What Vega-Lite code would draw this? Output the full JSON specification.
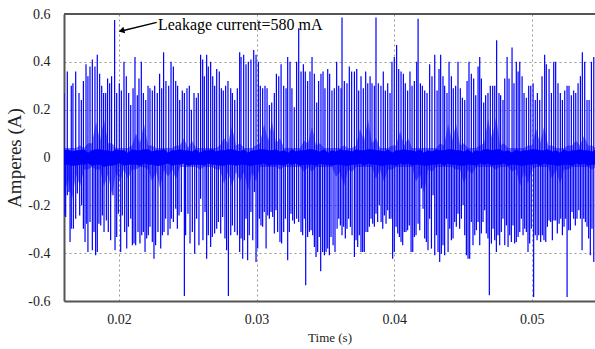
{
"$schema": "https://vega.github.io/schema/vega-lite/v6.json",
"width": 531, "height": 287,
"autosize": {"type": "none"},
"padding": {"left": 64, "top": 14, "right": 0, "bottom": 48},
"background": "white",
"config": {"view": {"stroke": null}, "font": "Liberation Serif"},
"datasets": {
"spikes": [
{"t":0.01600,"v":0.27},{"t":0.01624,"v":0.36},{"t":0.01653,"v":0.30},{"t":0.01665,"v":0.31},{"t":0.01685,"v":0.36},{"t":0.01709,"v":0.27},{"t":0.01726,"v":0.24},{"t":0.01741,"v":0.32},{"t":0.01760,"v":0.39},{"t":0.01774,"v":0.34},
{"t":0.01789,"v":0.38},{"t":0.01806,"v":0.41},{"t":0.01825,"v":0.38},{"t":0.01842,"v":0.43},{"t":0.01859,"v":0.35},{"t":0.01874,"v":0.30},{"t":0.01888,"v":0.27},{"t":0.01903,"v":0.27},{"t":0.01917,"v":0.33},{"t":0.01932,"v":0.31},
{"t":0.01946,"v":0.34},{"t":0.01968,"v":0.575},{"t":0.01983,"v":0.27},{"t":0.02002,"v":0.31},{"t":0.02017,"v":0.28},{"t":0.02036,"v":0.40},{"t":0.02053,"v":0.34},{"t":0.02070,"v":0.27},{"t":0.02085,"v":0.22},{"t":0.02102,"v":0.29},
{"t":0.02116,"v":0.42},{"t":0.02133,"v":0.26},{"t":0.02145,"v":0.33},{"t":0.02162,"v":0.40},{"t":0.02177,"v":0.27},{"t":0.02194,"v":0.24},{"t":0.02211,"v":0.30},{"t":0.02225,"v":0.29},{"t":0.02242,"v":0.28},{"t":0.02259,"v":0.30},
{"t":0.02278,"v":0.27},{"t":0.02295,"v":0.35},{"t":0.02310,"v":0.29},{"t":0.02324,"v":0.44},{"t":0.02341,"v":0.32},{"t":0.02361,"v":0.30},{"t":0.02378,"v":0.40},{"t":0.02395,"v":0.38},{"t":0.02412,"v":0.32},{"t":0.02426,"v":0.30},
{"t":0.02441,"v":0.24},{"t":0.02460,"v":0.28},{"t":0.02475,"v":0.27},{"t":0.02494,"v":0.29},{"t":0.02511,"v":0.30},{"t":0.02526,"v":0.20},{"t":0.02545,"v":0.27},{"t":0.02562,"v":0.25},{"t":0.02576,"v":0.27},{"t":0.02593,"v":0.43},
{"t":0.02608,"v":0.41},{"t":0.02620,"v":0.34},{"t":0.02637,"v":0.43},{"t":0.02649,"v":0.38},{"t":0.02666,"v":0.40},{"t":0.02681,"v":0.34},{"t":0.02695,"v":0.30},{"t":0.02710,"v":0.37},{"t":0.02729,"v":0.36},{"t":0.02744,"v":0.29},
{"t":0.02758,"v":0.28},{"t":0.02775,"v":0.30},{"t":0.02792,"v":0.32},{"t":0.02812,"v":0.29},{"t":0.02824,"v":0.27},{"t":0.02841,"v":0.24},{"t":0.02860,"v":0.29},{"t":0.02877,"v":0.44},
{"t":0.02887,"v":0.42},{"t":0.02906,"v":0.43},{"t":0.02923,"v":0.39},{"t":0.02940,"v":0.40},{"t":0.02959,"v":0.41},{"t":0.02979,"v":0.45},{"t":0.02996,"v":0.43},{"t":0.03013,"v":0.40},{"t":0.03027,"v":0.30},{"t":0.03044,"v":0.29},
{"t":0.03061,"v":0.30},{"t":0.03076,"v":0.29},{"t":0.03093,"v":0.22},{"t":0.03110,"v":0.23},{"t":0.03129,"v":0.27},{"t":0.03144,"v":0.35},{"t":0.03161,"v":0.34},{"t":0.03178,"v":0.39},{"t":0.03197,"v":0.30},{"t":0.03214,"v":0.29},
{"t":0.03226,"v":0.42},{"t":0.03243,"v":0.40},{"t":0.03257,"v":0.29},{"t":0.03274,"v":0.21},{"t":0.03291,"v":0.40},{"t":0.03306,"v":0.54},{"t":0.03323,"v":0.36},{"t":0.03340,"v":0.39},{"t":0.03354,"v":0.36},{"t":0.03371,"v":0.32},
{"t":0.03388,"v":0.36},{"t":0.03403,"v":0.42},{"t":0.03420,"v":0.35},{"t":0.03437,"v":0.23},{"t":0.03451,"v":0.32},{"t":0.03468,"v":0.35},{"t":0.03483,"v":0.36},{"t":0.03497,"v":0.29},{"t":0.03517,"v":0.37},{"t":0.03531,"v":0.35},
{"t":0.03548,"v":0.28},{"t":0.03565,"v":0.29},{"t":0.03582,"v":0.40},{"t":0.03597,"v":0.30},{"t":0.03614,"v":0.29},{"t":0.03621,"v":0.585},{"t":0.03638,"v":0.32},{"t":0.03657,"v":0.31},{"t":0.03674,"v":0.38},{"t":0.03691,"v":0.36},
{"t":0.03711,"v":0.36},{"t":0.03728,"v":0.37},{"t":0.03742,"v":0.28},{"t":0.03759,"v":0.34},{"t":0.03776,"v":0.29},{"t":0.03793,"v":0.36},{"t":0.03808,"v":0.31},{"t":0.03825,"v":0.34},{"t":0.03839,"v":0.31},{"t":0.03856,"v":0.30},
{"t":0.03868,"v":0.585},{"t":0.03885,"v":0.31},{"t":0.03904,"v":0.30},{"t":0.03921,"v":0.36},{"t":0.03936,"v":0.28},{"t":0.03953,"v":0.31},{"t":0.03970,"v":0.27},{"t":0.03984,"v":0.40},{"t":0.04001,"v":0.42},{"t":0.04018,"v":0.47},
{"t":0.04033,"v":0.37},{"t":0.04050,"v":0.36},{"t":0.04067,"v":0.35},{"t":0.04081,"v":0.31},{"t":0.04098,"v":0.28},{"t":0.04115,"v":0.36},{"t":0.04130,"v":0.30},{"t":0.04147,"v":0.32},{"t":0.04164,"v":0.40},
{"t":0.04174,"v":0.58},{"t":0.04191,"v":0.31},{"t":0.04205,"v":0.30},{"t":0.04222,"v":0.28},{"t":0.04239,"v":0.27},{"t":0.04258,"v":0.39},{"t":0.04275,"v":0.34},{"t":0.04295,"v":0.43},{"t":0.04312,"v":0.28},{"t":0.04326,"v":0.37},
{"t":0.04338,"v":0.43},{"t":0.04355,"v":0.34},{"t":0.04367,"v":0.30},{"t":0.04384,"v":0.27},{"t":0.04399,"v":0.40},{"t":0.04416,"v":0.34},{"t":0.04430,"v":0.29},{"t":0.04447,"v":0.30},{"t":0.04464,"v":0.40},{"t":0.04481,"v":0.29},
{"t":0.04496,"v":0.25},{"t":0.04513,"v":0.24},{"t":0.04530,"v":0.32},{"t":0.04544,"v":0.40},{"t":0.04561,"v":0.35},{"t":0.04578,"v":0.33},{"t":0.04593,"v":0.26},{"t":0.04610,"v":0.38},{"t":0.04622,"v":0.42},{"t":0.04634,"v":0.33},
{"t":0.04651,"v":0.23},{"t":0.04665,"v":0.26},{"t":0.04682,"v":0.27},{"t":0.04699,"v":0.30},{"t":0.04716,"v":0.30},{"t":0.04731,"v":0.30},{"t":0.04745,"v":0.49},{"t":0.04762,"v":0.27},{"t":0.04774,"v":0.26},{"t":0.04791,"v":0.24},
{"t":0.04804,"v":0.33},{"t":0.04821,"v":0.42},{"t":0.04835,"v":0.33},{"t":0.04857,"v":0.46},{"t":0.04871,"v":0.31},{"t":0.04888,"v":0.40},{"t":0.04901,"v":0.36},{"t":0.04913,"v":0.40},{"t":0.04930,"v":0.34},{"t":0.04944,"v":0.27},
{"t":0.04961,"v":0.25},{"t":0.04978,"v":0.30},{"t":0.04993,"v":0.30},{"t":0.05010,"v":0.31},{"t":0.05026,"v":0.24},{"t":0.05041,"v":0.27},{"t":0.05058,"v":0.24},{"t":0.05075,"v":0.34},{"t":0.05094,"v":0.43},{"t":0.05106,"v":0.39},
{"t":0.05126,"v":0.37},{"t":0.05143,"v":0.27},{"t":0.05160,"v":0.40},{"t":0.05174,"v":0.40},{"t":0.05191,"v":0.31},{"t":0.05208,"v":0.27},{"t":0.05223,"v":0.24},{"t":0.05240,"v":0.28},{"t":0.05257,"v":0.30},{"t":0.05271,"v":0.30},
{"t":0.05288,"v":0.26},{"t":0.05305,"v":0.28},{"t":0.05320,"v":0.27},{"t":0.05337,"v":0.31},{"t":0.05354,"v":0.34},{"t":0.05368,"v":0.44},{"t":0.05385,"v":0.40},{"t":0.05402,"v":0.24},{"t":0.05417,"v":0.24},{"t":0.05434,"v":0.40},
{"t":0.05451,"v":0.42},
{"t":0.01600,"v":-0.242},{"t":0.01612,"v":-0.249},{"t":0.01624,"v":-0.158},{"t":0.01636,"v":-0.144},{"t":0.01644,"v":-0.353},{"t":0.01653,"v":-0.298},{"t":0.01668,"v":-0.298},{"t":0.01685,"v":-0.256},{"t":0.01697,"v":-0.151},{"t":0.01714,"v":-0.242},
{"t":0.01728,"v":-0.200},{"t":0.01741,"v":-0.298},{"t":0.01753,"v":-0.353},{"t":0.01765,"v":-0.277},{"t":0.01774,"v":-0.395},{"t":0.01789,"v":-0.270},{"t":0.01806,"v":-0.388},{"t":0.01818,"v":-0.311},{"t":0.01830,"v":-0.409},{"t":0.01842,"v":-0.395},
{"t":0.01854,"v":-0.277},{"t":0.01867,"v":-0.284},{"t":0.01879,"v":-0.242},{"t":0.01891,"v":-0.311},{"t":0.01908,"v":-0.263},{"t":0.01922,"v":-0.311},{"t":0.01939,"v":-0.346},{"t":0.01956,"v":-0.158},{"t":0.01971,"v":-0.388},{"t":0.01983,"v":-0.332},
{"t":0.01995,"v":-0.235},{"t":0.02012,"v":-0.395},{"t":0.02024,"v":-0.242},{"t":0.02041,"v":-0.311},{"t":0.02056,"v":-0.381},{"t":0.02068,"v":-0.290},{"t":0.02085,"v":-0.256},{"t":0.02097,"v":-0.367},{"t":0.02109,"v":-0.360},{"t":0.02121,"v":-0.367},
{"t":0.02138,"v":-0.311},{"t":0.02152,"v":-0.360},{"t":0.02165,"v":-0.325},{"t":0.02177,"v":-0.311},{"t":0.02189,"v":-0.395},{"t":0.02201,"v":-0.339},{"t":0.02213,"v":-0.325},{"t":0.02225,"v":-0.290},{"t":0.02242,"v":-0.353},{"t":0.02254,"v":-0.423},
{"t":0.02266,"v":-0.367},{"t":0.02283,"v":-0.311},{"t":0.02303,"v":-0.381},{"t":0.02315,"v":-0.325},{"t":0.02327,"v":-0.311},{"t":0.02339,"v":-0.256},{"t":0.02356,"v":-0.325},{"t":0.02371,"v":-0.298},{"t":0.02380,"v":-0.256},{"t":0.02395,"v":-0.270},
{"t":0.02412,"v":-0.214},{"t":0.02424,"v":-0.298},{"t":0.02436,"v":-0.242},{"t":0.02453,"v":-0.228},{"t":0.02475,"v":-0.579},{"t":0.02484,"v":-0.325},{"t":0.02501,"v":-0.235},{"t":0.02516,"v":-0.360},{"t":0.02533,"v":-0.311},{"t":0.02550,"v":-0.402},
{"t":0.02564,"v":-0.256},{"t":0.02581,"v":-0.367},{"t":0.02593,"v":-0.172},{"t":0.02610,"v":-0.346},{"t":0.02625,"v":-0.228},{"t":0.02637,"v":-0.423},{"t":0.02649,"v":-0.325},{"t":0.02666,"v":-0.374},{"t":0.02678,"v":-0.332},{"t":0.02695,"v":-0.318},
{"t":0.02710,"v":-0.298},{"t":0.02722,"v":-0.270},{"t":0.02739,"v":-0.318},{"t":0.02753,"v":-0.249},{"t":0.02770,"v":-0.339},{"t":0.02782,"v":-0.388},{"t":0.02795,"v":-0.579},{"t":0.02812,"v":-0.325},{"t":0.02824,"v":-0.284},{"t":0.02841,"v":-0.311},
{"t":0.02860,"v":-0.325},{"t":0.02877,"v":-0.395},
{"t":0.02887,"v":-0.339},{"t":0.02899,"v":-0.423},{"t":0.02911,"v":-0.346},{"t":0.02923,"v":-0.256},{"t":0.02935,"v":-0.430},{"t":0.02947,"v":-0.325},{"t":0.02959,"v":-0.228},{"t":0.02972,"v":-0.346},{"t":0.02984,"v":-0.144},{"t":0.02996,"v":-0.437},
{"t":0.03008,"v":-0.381},{"t":0.03020,"v":-0.256},{"t":0.03032,"v":-0.284},{"t":0.03044,"v":-0.290},{"t":0.03056,"v":-0.228},{"t":0.03069,"v":-0.381},{"t":0.03081,"v":-0.242},{"t":0.03093,"v":-0.256},{"t":0.03105,"v":-0.228},{"t":0.03117,"v":-0.249},
{"t":0.03129,"v":-0.318},{"t":0.03141,"v":-0.221},{"t":0.03153,"v":-0.311},{"t":0.03170,"v":-0.353},{"t":0.03182,"v":-0.360},{"t":0.03197,"v":-0.311},{"t":0.03209,"v":-0.256},{"t":0.03226,"v":-0.430},{"t":0.03238,"v":-0.311},{"t":0.03250,"v":-0.235},
{"t":0.03262,"v":-0.263},{"t":0.03275,"v":-0.277},{"t":0.03291,"v":-0.256},{"t":0.03306,"v":-0.270},{"t":0.03323,"v":-0.311},{"t":0.03335,"v":-0.325},{"t":0.03347,"v":-0.256},{"t":0.03357,"v":-0.534},{"t":0.03371,"v":-0.332},{"t":0.03384,"v":-0.311},
{"t":0.03396,"v":-0.304},{"t":0.03408,"v":-0.325},{"t":0.03420,"v":-0.374},{"t":0.03432,"v":-0.416},{"t":0.03444,"v":-0.395},{"t":0.03456,"v":-0.332},{"t":0.03466,"v":-0.476},{"t":0.03480,"v":-0.395},{"t":0.03493,"v":-0.409},{"t":0.03505,"v":-0.395},
{"t":0.03517,"v":-0.381},{"t":0.03529,"v":-0.409},{"t":0.03541,"v":-0.332},{"t":0.03556,"v":-0.367},{"t":0.03570,"v":-0.395},{"t":0.03585,"v":-0.298},{"t":0.03597,"v":-0.256},{"t":0.03609,"v":-0.284},{"t":0.03621,"v":-0.325},{"t":0.03633,"v":-0.290},
{"t":0.03645,"v":-0.339},{"t":0.03657,"v":-0.298},{"t":0.03669,"v":-0.256},{"t":0.03682,"v":-0.290},{"t":0.03694,"v":-0.325},{"t":0.03711,"v":-0.416},{"t":0.03723,"v":-0.346},{"t":0.03735,"v":-0.374},{"t":0.03747,"v":-0.325},{"t":0.03759,"v":-0.395},
{"t":0.03771,"v":-0.395},{"t":0.03783,"v":-0.395},{"t":0.03795,"v":-0.311},{"t":0.03808,"v":-0.311},{"t":0.03820,"v":-0.290},{"t":0.03832,"v":-0.256},{"t":0.03844,"v":-0.277},{"t":0.03856,"v":-0.290},{"t":0.03868,"v":-0.235},{"t":0.03880,"v":-0.270},
{"t":0.03892,"v":-0.200},{"t":0.03905,"v":-0.270},{"t":0.03917,"v":-0.298},{"t":0.03929,"v":-0.242},{"t":0.03941,"v":-0.277},{"t":0.03953,"v":-0.221},{"t":0.03965,"v":-0.256},{"t":0.03977,"v":-0.256},{"t":0.03989,"v":-0.423},{"t":0.04001,"v":-0.395},
{"t":0.04014,"v":-0.290},{"t":0.04026,"v":-0.318},{"t":0.04038,"v":-0.332},{"t":0.04050,"v":-0.353},{"t":0.04062,"v":-0.367},{"t":0.04074,"v":-0.311},{"t":0.04086,"v":-0.311},{"t":0.04098,"v":-0.304},{"t":0.04110,"v":-0.284},{"t":0.04123,"v":-0.395},
{"t":0.04135,"v":-0.395},{"t":0.04147,"v":-0.332},{"t":0.04159,"v":-0.325},
{"t":0.04174,"v":-0.277},{"t":0.04186,"v":-0.304},{"t":0.04198,"v":-0.130},{"t":0.04210,"v":-0.214},{"t":0.04222,"v":-0.339},{"t":0.04234,"v":-0.353},{"t":0.04246,"v":-0.388},{"t":0.04258,"v":-0.256},{"t":0.04271,"v":-0.381},{"t":0.04283,"v":-0.158},
{"t":0.04295,"v":-0.409},{"t":0.04307,"v":-0.325},{"t":0.04319,"v":-0.395},{"t":0.04331,"v":-0.437},{"t":0.04343,"v":-0.402},{"t":0.04355,"v":-0.367},{"t":0.04367,"v":-0.409},{"t":0.04380,"v":-0.256},{"t":0.04392,"v":-0.395},{"t":0.04404,"v":-0.298},
{"t":0.04416,"v":-0.346},{"t":0.04428,"v":-0.339},{"t":0.04440,"v":-0.270},{"t":0.04452,"v":-0.290},{"t":0.04464,"v":-0.235},{"t":0.04476,"v":-0.298},{"t":0.04489,"v":-0.256},{"t":0.04501,"v":-0.200},{"t":0.04513,"v":-0.325},{"t":0.04525,"v":-0.409},
{"t":0.04537,"v":-0.423},{"t":0.04549,"v":-0.423},{"t":0.04561,"v":-0.270},{"t":0.04573,"v":-0.367},{"t":0.04586,"v":-0.325},{"t":0.04598,"v":-0.304},{"t":0.04610,"v":-0.270},{"t":0.04622,"v":-0.367},{"t":0.04634,"v":-0.318},{"t":0.04646,"v":-0.270},
{"t":0.04658,"v":-0.221},{"t":0.04670,"v":-0.318},{"t":0.04682,"v":-0.339},{"t":0.04692,"v":-0.576},{"t":0.04707,"v":-0.360},{"t":0.04719,"v":-0.298},{"t":0.04731,"v":-0.346},{"t":0.04743,"v":-0.395},{"t":0.04755,"v":-0.325},{"t":0.04767,"v":-0.367},
{"t":0.04779,"v":-0.311},{"t":0.04791,"v":-0.256},{"t":0.04804,"v":-0.367},{"t":0.04816,"v":-0.284},{"t":0.04828,"v":-0.374},{"t":0.04840,"v":-0.325},{"t":0.04852,"v":-0.353},{"t":0.04864,"v":-0.284},{"t":0.04876,"v":-0.360},{"t":0.04888,"v":-0.353},
{"t":0.04901,"v":-0.332},{"t":0.04913,"v":-0.311},{"t":0.04925,"v":-0.256},{"t":0.04937,"v":-0.325},{"t":0.04949,"v":-0.298},{"t":0.04961,"v":-0.311},{"t":0.04973,"v":-0.395},{"t":0.04985,"v":-0.360},{"t":0.04997,"v":-0.298},{"t":0.05014,"v":-0.583},
{"t":0.05026,"v":-0.325},{"t":0.05039,"v":-0.346},{"t":0.05051,"v":-0.325},{"t":0.05065,"v":-0.353},{"t":0.05077,"v":-0.325},{"t":0.05089,"v":-0.346},{"t":0.05102,"v":-0.353},{"t":0.05114,"v":-0.290},{"t":0.05126,"v":-0.263},{"t":0.05138,"v":-0.270},
{"t":0.05150,"v":-0.346},{"t":0.05162,"v":-0.263},{"t":0.05174,"v":-0.263},{"t":0.05186,"v":-0.318},{"t":0.05199,"v":-0.277},{"t":0.05211,"v":-0.256},{"t":0.05223,"v":-0.325},{"t":0.05235,"v":-0.290},{"t":0.05247,"v":-0.256},{"t":0.05257,"v":-0.583},
{"t":0.05269,"v":-0.304},{"t":0.05281,"v":-0.304},{"t":0.05293,"v":-0.228},{"t":0.05305,"v":-0.256},{"t":0.05317,"v":-0.284},{"t":0.05329,"v":-0.256},{"t":0.05342,"v":-0.221},{"t":0.05354,"v":-0.256},{"t":0.05366,"v":-0.388},{"t":0.05378,"v":-0.256},
{"t":0.05390,"v":-0.270},{"t":0.05402,"v":-0.290},{"t":0.05414,"v":-0.339},{"t":0.05426,"v":-0.409},{"t":0.05438,"v":-0.298},{"t":0.05451,"v":-0.437}
],
"core": [
{"t":0.01600,"up":0.04,"dn":-0.16,"cu":0.03,"cd":-0.03},
{"t":0.01658,"up":0.04,"dn":-0.18,"cu":0.025,"cd":-0.035},
{"t":0.01716,"up":0.05,"dn":-0.12,"cu":0.03,"cd":-0.03},
{"t":0.01774,"up":0.06,"dn":-0.05,"cu":0.02,"cd":-0.025},
{"t":0.01833,"up":0.15,"dn":-0.05,"cu":0.035,"cd":-0.03},
{"t":0.01891,"up":0.16,"dn":-0.12,"cu":0.03,"cd":-0.04},
{"t":0.01949,"up":0.06,"dn":-0.16,"cu":0.025,"cd":-0.035},
{"t":0.02007,"up":0.04,"dn":-0.10,"cu":0.03,"cd":-0.025},
{"t":0.02065,"up":0.04,"dn":-0.09,"cu":0.02,"cd":-0.03},
{"t":0.02123,"up":0.10,"dn":-0.05,"cu":0.03,"cd":-0.03},
{"t":0.02182,"up":0.14,"dn":-0.04,"cu":0.035,"cd":-0.025},
{"t":0.02240,"up":0.05,"dn":-0.10,"cu":0.025,"cd":-0.03},
{"t":0.02298,"up":0.04,"dn":-0.13,"cu":0.03,"cd":-0.035},
{"t":0.02356,"up":0.04,"dn":-0.08,"cu":0.02,"cd":-0.025},
{"t":0.02414,"up":0.05,"dn":-0.09,"cu":0.03,"cd":-0.03},
{"t":0.02472,"up":0.08,"dn":-0.04,"cu":0.03,"cd":-0.025},
{"t":0.02531,"up":0.07,"dn":-0.04,"cu":0.025,"cd":-0.03},
{"t":0.02589,"up":0.04,"dn":-0.05,"cu":0.02,"cd":-0.03},
{"t":0.02647,"up":0.04,"dn":-0.04,"cu":0.03,"cd":-0.025},
{"t":0.02705,"up":0.04,"dn":-0.05,"cu":0.025,"cd":-0.03},
{"t":0.02763,"up":0.08,"dn":-0.11,"cu":0.03,"cd":-0.035},
{"t":0.02821,"up":0.13,"dn":-0.12,"cu":0.035,"cd":-0.03},
{"t":0.02880,"up":0.06,"dn":-0.10,"cu":0.025,"cd":-0.03},
{"t":0.02938,"up":0.04,"dn":-0.14,"cu":0.02,"cd":-0.035},
{"t":0.02996,"up":0.05,"dn":-0.10,"cu":0.03,"cd":-0.03},
{"t":0.03054,"up":0.14,"dn":-0.04,"cu":0.035,"cd":-0.025},
{"t":0.03112,"up":0.15,"dn":-0.04,"cu":0.03,"cd":-0.03},
{"t":0.03170,"up":0.08,"dn":-0.05,"cu":0.025,"cd":-0.03},
{"t":0.03229,"up":0.04,"dn":-0.04,"cu":0.02,"cd":-0.025},
{"t":0.03287,"up":0.04,"dn":-0.04,"cu":0.025,"cd":-0.025},
{"t":0.03345,"up":0.07,"dn":-0.06,"cu":0.03,"cd":-0.03},
{"t":0.03403,"up":0.13,"dn":-0.06,"cu":0.035,"cd":-0.03},
{"t":0.03461,"up":0.06,"dn":-0.04,"cu":0.025,"cd":-0.025},
{"t":0.03519,"up":0.04,"dn":-0.04,"cu":0.02,"cd":-0.03},
{"t":0.03577,"up":0.04,"dn":-0.08,"cu":0.025,"cd":-0.03},
{"t":0.03636,"up":0.05,"dn":-0.12,"cu":0.03,"cd":-0.035},
{"t":0.03694,"up":0.04,"dn":-0.06,"cu":0.025,"cd":-0.03},
{"t":0.03752,"up":0.12,"dn":-0.04,"cu":0.03,"cd":-0.025},
{"t":0.03810,"up":0.16,"dn":-0.04,"cu":0.035,"cd":-0.025},
{"t":0.03868,"up":0.08,"dn":-0.09,"cu":0.03,"cd":-0.03},
{"t":0.03926,"up":0.04,"dn":-0.10,"cu":0.025,"cd":-0.035},
{"t":0.03985,"up":0.05,"dn":-0.05,"cu":0.02,"cd":-0.03},
{"t":0.04043,"up":0.11,"dn":-0.04,"cu":0.03,"cd":-0.025},
{"t":0.04101,"up":0.08,"dn":-0.04,"cu":0.03,"cd":-0.025},
{"t":0.04159,"up":0.04,"dn":-0.10,"cu":0.025,"cd":-0.03},
{"t":0.04217,"up":0.04,"dn":-0.15,"cu":0.02,"cd":-0.035},
{"t":0.04275,"up":0.04,"dn":-0.06,"cu":0.025,"cd":-0.03},
{"t":0.04334,"up":0.06,"dn":-0.04,"cu":0.03,"cd":-0.025},
{"t":0.04392,"up":0.14,"dn":-0.04,"cu":0.035,"cd":-0.025},
{"t":0.04450,"up":0.14,"dn":-0.05,"cu":0.03,"cd":-0.03},
{"t":0.04508,"up":0.06,"dn":-0.11,"cu":0.025,"cd":-0.035},
{"t":0.04566,"up":0.04,"dn":-0.07,"cu":0.02,"cd":-0.03},
{"t":0.04624,"up":0.05,"dn":-0.04,"cu":0.025,"cd":-0.025},
{"t":0.04683,"up":0.16,"dn":-0.04,"cu":0.035,"cd":-0.025},
{"t":0.04741,"up":0.17,"dn":-0.05,"cu":0.035,"cd":-0.03},
{"t":0.04799,"up":0.06,"dn":-0.04,"cu":0.025,"cd":-0.025},
{"t":0.04857,"up":0.04,"dn":-0.06,"cu":0.02,"cd":-0.03},
{"t":0.04915,"up":0.04,"dn":-0.12,"cu":0.025,"cd":-0.035},
{"t":0.04973,"up":0.05,"dn":-0.11,"cu":0.03,"cd":-0.03},
{"t":0.05031,"up":0.12,"dn":-0.04,"cu":0.035,"cd":-0.025},
{"t":0.05090,"up":0.13,"dn":-0.04,"cu":0.03,"cd":-0.025},
{"t":0.05148,"up":0.05,"dn":-0.09,"cu":0.025,"cd":-0.03},
{"t":0.05206,"up":0.04,"dn":-0.11,"cu":0.02,"cd":-0.035},
{"t":0.05264,"up":0.05,"dn":-0.05,"cu":0.025,"cd":-0.03},
{"t":0.05322,"up":0.07,"dn":-0.04,"cu":0.03,"cd":-0.025},
{"t":0.05380,"up":0.09,"dn":-0.04,"cu":0.03,"cd":-0.025},
{"t":0.05439,"up":0.05,"dn":-0.05,"cu":0.025,"cd":-0.03},
{"t":0.05497,"up":0.04,"dn":-0.04,"cu":0.025,"cd":-0.03},
{"t":0.01629,"up":0.04,"dn":-0.09,"cu":0.035,"cd":-0.03},
{"t":0.01687,"up":0.04,"dn":-0.07,"cu":0.03,"cd":-0.035},
{"t":0.01745,"up":0.04,"dn":-0.05,"cu":0.035,"cd":-0.03},
{"t":0.01803,"up":0.06,"dn":-0.04,"cu":0.03,"cd":-0.035},
{"t":0.01862,"up":0.07,"dn":-0.05,"cu":0.035,"cd":-0.03},
{"t":0.01920,"up":0.06,"dn":-0.07,"cu":0.03,"cd":-0.035},
{"t":0.01978,"up":0.04,"dn":-0.06,"cu":0.035,"cd":-0.03},
{"t":0.02036,"up":0.04,"dn":-0.05,"cu":0.03,"cd":-0.035},
{"t":0.02094,"up":0.05,"dn":-0.05,"cu":0.035,"cd":-0.03},
{"t":0.02152,"up":0.06,"dn":-0.04,"cu":0.03,"cd":-0.035},
{"t":0.02211,"up":0.05,"dn":-0.05,"cu":0.035,"cd":-0.03},
{"t":0.02269,"up":0.04,"dn":-0.06,"cu":0.03,"cd":-0.035},
{"t":0.02327,"up":0.04,"dn":-0.05,"cu":0.035,"cd":-0.03},
{"t":0.02385,"up":0.04,"dn":-0.05,"cu":0.03,"cd":-0.035},
{"t":0.02443,"up":0.05,"dn":-0.04,"cu":0.035,"cd":-0.03},
{"t":0.02501,"up":0.04,"dn":-0.04,"cu":0.03,"cd":-0.035},
{"t":0.02560,"up":0.04,"dn":-0.04,"cu":0.035,"cd":-0.03},
{"t":0.02618,"up":0.04,"dn":-0.04,"cu":0.03,"cd":-0.035},
{"t":0.02676,"up":0.04,"dn":-0.04,"cu":0.035,"cd":-0.03},
{"t":0.02734,"up":0.05,"dn":-0.05,"cu":0.03,"cd":-0.035},
{"t":0.02792,"up":0.06,"dn":-0.06,"cu":0.035,"cd":-0.03},
{"t":0.02850,"up":0.05,"dn":-0.06,"cu":0.03,"cd":-0.035},
{"t":0.02909,"up":0.04,"dn":-0.06,"cu":0.035,"cd":-0.03},
{"t":0.02967,"up":0.04,"dn":-0.06,"cu":0.03,"cd":-0.035},
{"t":0.03025,"up":0.06,"dn":-0.04,"cu":0.035,"cd":-0.03},
{"t":0.03083,"up":0.07,"dn":-0.04,"cu":0.03,"cd":-0.035},
{"t":0.03141,"up":0.06,"dn":-0.04,"cu":0.035,"cd":-0.03},
{"t":0.03200,"up":0.04,"dn":-0.04,"cu":0.03,"cd":-0.035},
{"t":0.03258,"up":0.04,"dn":-0.04,"cu":0.035,"cd":-0.03},
{"t":0.03316,"up":0.04,"dn":-0.04,"cu":0.03,"cd":-0.035},
{"t":0.03374,"up":0.06,"dn":-0.04,"cu":0.035,"cd":-0.03},
{"t":0.03432,"up":0.05,"dn":-0.04,"cu":0.03,"cd":-0.035},
{"t":0.03490,"up":0.04,"dn":-0.04,"cu":0.035,"cd":-0.03},
{"t":0.03548,"up":0.04,"dn":-0.04,"cu":0.03,"cd":-0.035},
{"t":0.03607,"up":0.04,"dn":-0.06,"cu":0.035,"cd":-0.03},
{"t":0.03665,"up":0.04,"dn":-0.05,"cu":0.03,"cd":-0.035},
{"t":0.03723,"up":0.05,"dn":-0.04,"cu":0.035,"cd":-0.03},
{"t":0.03781,"up":0.07,"dn":-0.04,"cu":0.03,"cd":-0.035},
{"t":0.03839,"up":0.06,"dn":-0.04,"cu":0.035,"cd":-0.03},
{"t":0.03897,"up":0.04,"dn":-0.05,"cu":0.03,"cd":-0.035},
{"t":0.03956,"up":0.04,"dn":-0.05,"cu":0.035,"cd":-0.03},
{"t":0.04014,"up":0.05,"dn":-0.04,"cu":0.03,"cd":-0.035},
{"t":0.04072,"up":0.05,"dn":-0.04,"cu":0.035,"cd":-0.03},
{"t":0.04130,"up":0.04,"dn":-0.04,"cu":0.03,"cd":-0.035},
{"t":0.04188,"up":0.04,"dn":-0.07,"cu":0.035,"cd":-0.03},
{"t":0.04246,"up":0.04,"dn":-0.05,"cu":0.03,"cd":-0.035},
{"t":0.04305,"up":0.04,"dn":-0.04,"cu":0.035,"cd":-0.03},
{"t":0.04363,"up":0.05,"dn":-0.04,"cu":0.03,"cd":-0.035},
{"t":0.04421,"up":0.07,"dn":-0.04,"cu":0.035,"cd":-0.03},
{"t":0.04479,"up":0.05,"dn":-0.05,"cu":0.03,"cd":-0.035},
{"t":0.04537,"up":0.04,"dn":-0.05,"cu":0.035,"cd":-0.03},
{"t":0.04595,"up":0.04,"dn":-0.04,"cu":0.03,"cd":-0.035},
{"t":0.04654,"up":0.06,"dn":-0.04,"cu":0.035,"cd":-0.03},
{"t":0.04712,"up":0.08,"dn":-0.04,"cu":0.03,"cd":-0.035},
{"t":0.04770,"up":0.05,"dn":-0.04,"cu":0.035,"cd":-0.03},
{"t":0.04828,"up":0.04,"dn":-0.04,"cu":0.03,"cd":-0.035},
{"t":0.04886,"up":0.04,"dn":-0.05,"cu":0.035,"cd":-0.03},
{"t":0.04944,"up":0.04,"dn":-0.06,"cu":0.03,"cd":-0.035},
{"t":0.05002,"up":0.05,"dn":-0.05,"cu":0.035,"cd":-0.03},
{"t":0.05061,"up":0.06,"dn":-0.04,"cu":0.03,"cd":-0.035},
{"t":0.05119,"up":0.05,"dn":-0.04,"cu":0.035,"cd":-0.03},
{"t":0.05177,"up":0.04,"dn":-0.05,"cu":0.03,"cd":-0.035},
{"t":0.05235,"up":0.04,"dn":-0.05,"cu":0.035,"cd":-0.03},
{"t":0.05293,"up":0.05,"dn":-0.04,"cu":0.03,"cd":-0.035},
{"t":0.05351,"up":0.05,"dn":-0.04,"cu":0.035,"cd":-0.03},
{"t":0.05410,"up":0.05,"dn":-0.04,"cu":0.03,"cd":-0.035},
{"t":0.05468,"up":0.04,"dn":-0.04,"cu":0.035,"cd":-0.03}
]
},
"layer": [
{
"data": {"name": "core"},
"mark": {"type": "area", "color": "#0000ff", "opacity": 0.5, "clip": true},
"encoding": {
"x": {"field": "t", "type": "quantitative", "title": "Time (s)",
"scale": {"domain": [0.016, 0.0546], "nice": false, "zero": false},
"axis": {"values": [0.02, 0.03, 0.04, 0.05], "format": ".2f", "grid": true, "gridDash": [2, 3], "gridColor": "#999999", "gridWidth": 1,
"domain": true, "domainColor": "#555555", "domainWidth": 2, "ticks": false, "tickSize": 0,
"labelPadding": 11, "labelFont": "Liberation Serif", "labelFontSize": 14, "labelColor": "#222222",
"titleFont": "Liberation Serif", "titleFontSize": 13, "titleFontWeight": "normal", "titleColor": "#222222", "titlePadding": 5}},
"y": {"field": "up", "type": "quantitative", "title": "Amperes (A)",
"scale": {"domain": [-0.6, 0.6], "nice": false},
"axis": {"values": [-0.6, -0.4, -0.2, 0, 0.2, 0.4, 0.6], "labelExpr": "replace(format(datum.value, '.1~f'), '\u2212', '-')",
"grid": true, "gridDash": [2, 3], "gridColor": "#999999", "gridWidth": 1,
"domain": true, "domainColor": "#555555", "domainWidth": 2, "ticks": false, "tickSize": 0,
"labelPadding": 14, "labelFont": "Liberation Serif", "labelFontSize": 14, "labelColor": "#222222",
"titleFont": "Liberation Serif", "titleFontSize": 19, "titleFontWeight": "normal", "titleColor": "#222222", "titlePadding": 3}},
"y2": {"field": "dn"}
}
},
{
"data": {"name": "spikes"},
"mark": {"type": "rule", "color": "#0000ff", "strokeWidth": 1.2, "clip": true},
"encoding": {
"x": {"field": "t", "type": "quantitative", "title": "Time (s)"},
"y": {"field": "v", "type": "quantitative", "title": "Amperes (A)"},
"y2": {"datum": 0}
}
},
{
"data": {"name": "core"},
"mark": {"type": "area", "color": "#0000ff", "opacity": 1, "clip": true},
"encoding": {
"x": {"field": "t", "type": "quantitative", "title": "Time (s)"},
"y": {"field": "cu", "type": "quantitative", "title": "Amperes (A)"},
"y2": {"field": "cd"}
}
},
{
"data": {"values": [{"v": 0.6}]},
"mark": {"type": "rule", "color": "#555555", "strokeWidth": 2},
"encoding": {
"y": {"field": "v", "type": "quantitative", "title": "Amperes (A)"}
}
},
{
"data": {"values": [{"t": 0.02274, "v": 0.565, "t2": 0.02010, "v2": 0.528}]},
"mark": {"type": "rule", "color": "#000000", "strokeWidth": 1.5},
"encoding": {
"x": {"field": "t", "type": "quantitative", "title": "Time (s)"},
"x2": {"field": "t2"},
"y": {"field": "v", "type": "quantitative", "title": "Amperes (A)"},
"y2": {"field": "v2"}
}
},
{
"data": {"values": [{"t": 0.02018, "v": 0.530}]},
"mark": {"type": "point", "shape": "triangle-up", "filled": true, "color": "#000000", "opacity": 1, "size": 45, "angle": 254},
"encoding": {
"x": {"field": "t", "type": "quantitative", "title": "Time (s)"},
"y": {"field": "v", "type": "quantitative", "title": "Amperes (A)"}
}
},
{
"data": {"values": [{"t": 0.02283, "v": 0.533, "label": "Leakage current=580 mA"}]},
"mark": {"type": "text", "align": "left", "baseline": "alphabetic", "font": "Liberation Serif", "fontSize": 16, "color": "#000000"},
"encoding": {
"x": {"field": "t", "type": "quantitative", "title": "Time (s)"},
"y": {"field": "v", "type": "quantitative", "title": "Amperes (A)"},
"text": {"field": "label"}
}
}
]
}
